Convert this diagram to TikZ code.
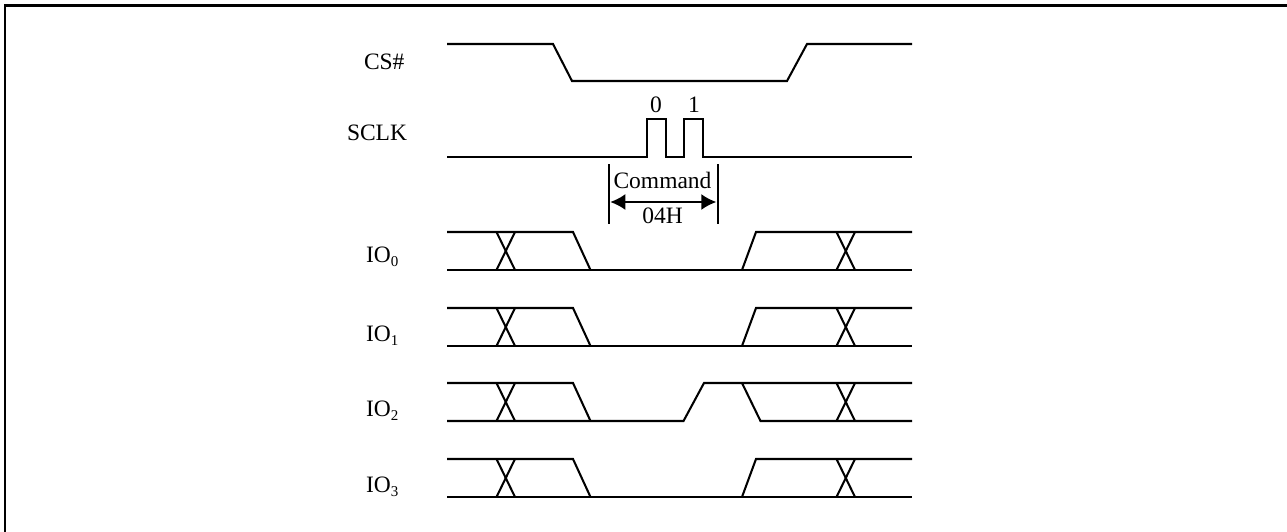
\documentclass[tikz,border=0pt]{standalone}
\usepackage{fontspec}
\setmainfont{Liberation Serif}
\usetikzlibrary{arrows.meta}
\tikzset{
  wave/.style={line width=2.05pt,line join=miter,black},
  framing/.style={line width=2.2pt,black},
  bar/.style={line width=2.05pt,black},
  dim/.style={line width=1.8pt,black,{Latex[length=15pt,width=16pt]}-{Latex[length=15pt,width=16pt]}},
  lab/.style={anchor=base,inner sep=0pt,outer sep=0pt,font=\fontsize{23.5}{26}\selectfont},
  labl/.style={anchor=base west,inner sep=0pt,outer sep=0pt,font=\fontsize{23.5}{26}\selectfont}
}
\newcommand{\ioname}[1]{IO\raisebox{-4pt}{\fontsize{15}{15}\selectfont #1}}
% #1 hi y, #2 lo y: parts shared by all IO rows
\newcommand{\ioshared}[2]{%
  \draw[wave] (447,#1) -- (573,#1) -- (590.5,#2);
  \draw[wave] (496.5,#1) -- (515,#2);
  \draw[wave] (515,#1) -- (496.5,#2);
  \draw[wave] (836.5,#1) -- (855,#2);
  \draw[wave] (855,#1) -- (836.5,#2);
}
\begin{document}
\begin{tikzpicture}[x=1pt,y=-1pt]
\useasboundingbox (0,0) rectangle (1287,532);
\draw[framing] (5,532) -- (5,5.5) -- (1287,5.5);
% CS#
\draw[wave] (447,44) -- (553,44) -- (572,81) -- (787,81) -- (807,44) -- (912,44);
% SCLK
\draw[wave] (447,157) -- (647,157) -- (647,119) -- (666,119) -- (666,157) -- (684,157) -- (684,119) -- (703,119) -- (703,157) -- (912,157);
% Command bracket
\coordinate (bl) at (609,202);
\coordinate (br) at (718,202);
\draw[bar] (609,164) -- (609,224);
\draw[bar] (718,164) -- (718,224);
\draw[dim] ([xshift=1.3pt]bl) -- ([xshift=-1.7pt]br);
% IO0
\ioshared{232}{270}
\draw[wave] (447,270) -- (912,270);
\draw[wave] (742,270) -- (756,232) -- (912,232);
% IO1
\ioshared{308}{346}
\draw[wave] (447,346) -- (912,346);
\draw[wave] (742,346) -- (756,308) -- (912,308);
% IO2
\ioshared{383}{421}
\draw[wave] (447,421) -- (683.5,421) -- (704,383) -- (912,383);
\draw[wave] (742,383) -- (760.5,421) -- (912,421);
% IO3
\ioshared{459}{497}
\draw[wave] (447,497) -- (912,497);
\draw[wave] (742,497) -- (756,459) -- (912,459);
% labels
\node[labl] (cs) at (364,70) {CS\#};
\node[labl] (sclk) at (347,141) {SCLK};
\node[lab] (zero) at (656,113) {0};
\node[lab] (one) at (694,113) {1};
\node[lab] (cmd) at (662.5,188) {Command};
\node[lab] (hex) at (662.7,223) {04H};
\node[labl] (io0) at (366,262.3) {\ioname{0}};
\node[labl] (io1) at (366,341) {\ioname{1}};
\node[labl] (io2) at (366,416.7) {\ioname{2}};
\node[labl] (io3) at (366,492.7) {\ioname{3}};
\end{tikzpicture}
\end{document}
